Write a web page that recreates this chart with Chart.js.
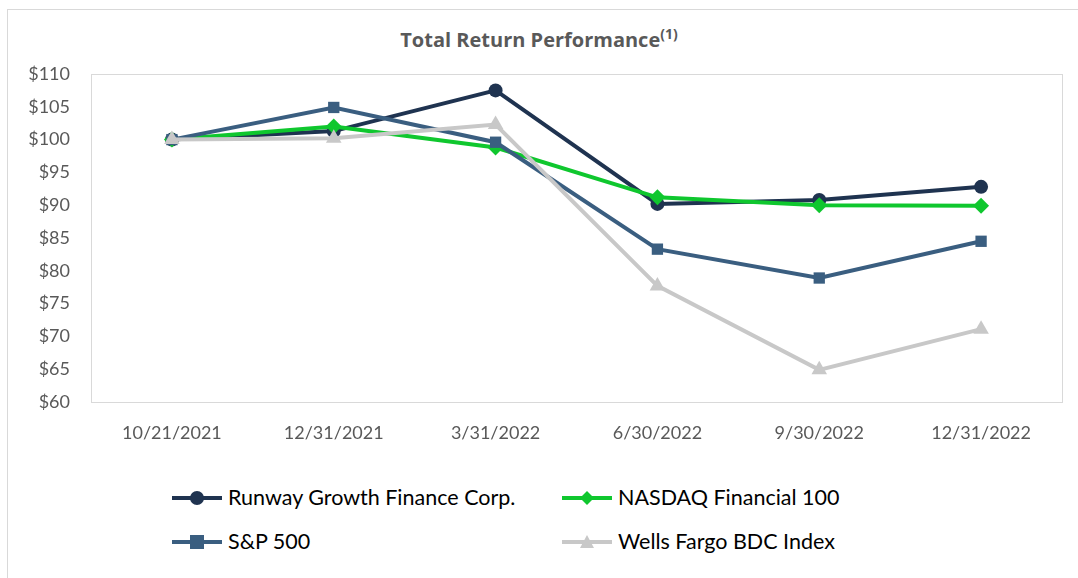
<!DOCTYPE html>
<html>
<head>
<meta charset="utf-8">
<script src="https://cdn.jsdelivr.net/npm/chart.js@4"></script>
<style>
  html, body { margin: 0; padding: 0; background: #fff; }
  body { width: 1078px; height: 578px; position: relative; overflow: hidden; font-family: Lato, sans-serif; }
  #frame { position: absolute; left: 7px; top: 9px; width: 1100px; height: 600px; border-left: 1px solid #d9d9d9; border-top: 1px solid #d9d9d9; }
  #titulo { position: absolute; left: 0; width: 1078px; top: 24px; text-align: center; font-family: "Open Sans", Lato, sans-serif; font-weight: bold; font-size: 20px; color: #595959; }
  #titulo sup { font-size: 14px; }
  #grafico { position: absolute; left: 0; top: 0; }
  #leyenda { position: absolute; left: 172px; top: 482px; }
  .item { position: absolute; white-space: nowrap; font-size: 21.5px; color: #000; height: 30px; line-height: 30px; }
  .item svg { vertical-align: middle; margin-right: 6px; position: relative; top: -2px; }
</style>
</head>
<body>
<div id="frame"></div>
<div id="titulo">Total Return Performance<sup>(1)</sup></div>
<canvas id="grafico" width="1078" height="470"></canvas>
<div id="leyenda"></div>
<script>
// datos
const fechas = ['10/21/2021', '12/31/2021', '3/31/2022', '6/30/2022', '9/30/2022', '12/31/2022'];
const runway = [100, 101.3, 107.5, 90.2, 90.8, 92.8];
const nasdaq = [100, 102.0, 98.8, 91.2, 90.0, 89.9];
const sp500 = [100, 104.9, 99.6, 83.3, 78.9, 84.5];
const wellsFargo = [100, 100.2, 102.3, 77.7, 64.9, 71.1];
const ticksY = [60, 65, 70, 75, 80, 85, 90, 95, 100, 105, 110];

const series = [
  { label: 'Runway Growth Finance Corp.', data: runway, color: '#1f3350', estilo: 'circle', radio: 7, orden: 3 },
  { label: 'NASDAQ Financial 100', data: nasdaq, color: '#0fc72e', estilo: 'rectRot', radio: 8, orden: 2 },
  { label: 'S&P 500', data: sp500, color: '#3a5e80', estilo: 'rect', radio: 8, orden: 1 },
  { label: 'Wells Fargo BDC Index', data: wellsFargo, color: '#c8c8c8', estilo: 'triangle', radio: 9, orden: 0 }
];

// borde del area del grafico
const bordeArea = {
  id: 'bordeArea',
  beforeDatasetsDraw(chart) {
    const a = chart.chartArea;
    const ctx = chart.ctx;
    ctx.save();
    ctx.strokeStyle = '#d9d9d9';
    ctx.lineWidth = 1;
    ctx.strokeRect(a.left + 0.5, a.top + 0.5, a.right - a.left, a.bottom - a.top);
    ctx.restore();
  }
};

const ctx = document.querySelector('#grafico');
const myChart = new Chart(ctx, {
  type: 'line',
  data: {
    labels: fechas,
    datasets: series.map(s => ({
      label: s.label,
      data: s.data,
      borderColor: s.color,
      backgroundColor: s.color,
      borderWidth: 4,
      pointStyle: s.estilo,
      pointRadius: s.radio,
      pointBorderWidth: 0,
      pointBackgroundColor: s.color,
      tension: 0,
      order: s.orden
    }))
  },
  options: {
    responsive: false,
    animation: false,
    layout: { padding: { top: 74, right: 16, left: 0, bottom: 0 } },
    plugins: { legend: { display: false }, title: { display: false }, tooltip: { enabled: false } },
    scales: {
      x: {
        offset: true,
        grid: { display: false, drawTicks: false },
        border: { display: false },
        ticks: { color: '#595959', font: { family: 'Lato', size: 18 }, padding: 20, maxRotation: 0 },
        afterFit(scale) { scale.height = 68; }
      },
      y: {
        min: 60,
        max: 110,
        grid: { display: false, drawTicks: false },
        border: { display: false },
        afterBuildTicks(scale) { scale.ticks = ticksY.map(v => ({ value: v })); },
        ticks: { color: '#595959', font: { family: 'Lato', size: 18 }, padding: 21, callback: v => '$' + v },
        afterFit(scale) { scale.width = 91; }
      }
    }
  },
  plugins: [bordeArea]
});

// leyenda en dos columnas
function marcador(s) {
  let forma = '';
  if (s.estilo === 'circle') forma = `<circle cx="25" cy="10" r="7" fill="${s.color}"/>`;
  if (s.estilo === 'rectRot') forma = `<polygon points="25,3 32,10 25,17 18,10" fill="${s.color}"/>`;
  if (s.estilo === 'rect') forma = `<rect x="18" y="3" width="14" height="14" fill="${s.color}"/>`;
  if (s.estilo === 'triangle') forma = `<polygon points="25,3 32,16 18,16" fill="${s.color}"/>`;
  return `<svg width="50" height="20"><line x1="0" y1="10" x2="50" y2="10" stroke="${s.color}" stroke-width="4"/>${forma}</svg>`;
}
const posiciones = [[0, 0], [390, 0], [0, 44], [390, 44]];
document.querySelector('#leyenda').innerHTML = series.map((s, i) =>
  `<div class="item" style="left:${posiciones[i][0]}px;top:${posiciones[i][1]}px">${marcador(s)}${s.label}</div>`
).join('');
</script>
</body>
</html>
